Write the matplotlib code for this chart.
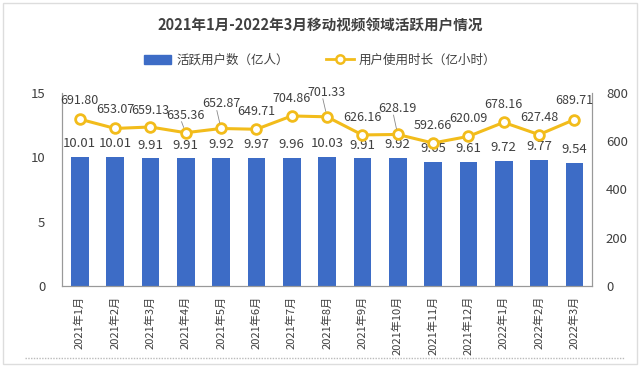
import matplotlib
matplotlib.use("Agg")
import matplotlib.pyplot as plt
from matplotlib.patches import Rectangle
from matplotlib.lines import Line2D

plt.rcParams['font.family'] = ['Noto Sans CJK SC', 'DejaVu Sans']

months = ["2021年1月", "2021年2月", "2021年3月", "2021年4月", "2021年5月", "2021年6月",
          "2021年7月", "2021年8月", "2021年9月", "2021年10月", "2021年11月", "2021年12月",
          "2022年1月", "2022年2月", "2022年3月"]
users = [10.01, 10.01, 9.91, 9.91, 9.92, 9.97, 9.96, 10.03, 9.91, 9.92, 9.65, 9.61, 9.72, 9.77, 9.54]
hours = [691.80, 653.07, 659.13, 635.36, 652.87, 649.71, 704.86, 701.33, 626.16, 628.19,
         592.66, 620.09, 678.16, 627.48, 689.71]
# label offsets (points) for line labels, some lifted with leader lines
hour_label_dy = [9, 9, 7, 8, 13, 8, 8, 13, 8, 14, 8, 8, 8, 8, 9]
leader = [False, False, False, True, True, False, False, True, False, True,
          False, False, False, False, False]

bar_color = "#3D6CC6"
line_color = "#F2BC1B"
text_color = "#404040"

fig = plt.figure(figsize=(6.4, 3.67), dpi=100)
fig.patch.set_facecolor("white")
ax = fig.add_axes([62/640, 1 - 286/367, 530/640, 193/367])
ax2 = ax.twinx()

x = list(range(len(months)))
ax.bar(x, users, width=0.5, color=bar_color, zorder=2)
ax.set_ylim(0, 15)
ax.set_yticks([0, 5, 10, 15])
ax.set_xlim(-0.5, len(months) - 0.5)
ax.set_xticks(x)
ax.set_xticklabels(months, rotation=90, fontsize=8, color=text_color)
ax.tick_params(axis='y', labelsize=9.5, colors=text_color, length=0, pad=12)
ax.tick_params(axis='x', length=0, pad=7)

ax2.plot(x, hours, color=line_color, lw=2.2, marker='o', ms=7, mfc='white',
         mec=line_color, mew=2, zorder=3)
ax2.set_ylim(0, 800)
ax2.set_yticks([0, 200, 400, 600, 800])
ax2.tick_params(axis='y', labelsize=9.5, colors=text_color, length=0, pad=10)

for a in (ax, ax2):
    a.spines['top'].set_visible(False)
    a.spines['left'].set_color('#999999')
    a.spines['right'].set_color('#999999')
    a.spines['bottom'].set_color('#999999')
    a.patch.set_alpha(0)

for xi, v in zip(x, users):
    ax.annotate(f"{v:.2f}", (xi, v), xytext=(0, 5), textcoords='offset points',
                ha='center', va='bottom', fontsize=9.5, color=text_color)
for xi, v, dy, ld in zip(x, hours, hour_label_dy, leader):
    ax2.annotate(f"{v:.2f}", (xi, v), xytext=(0, dy), textcoords='offset points',
                 ha='center', va='bottom', fontsize=9, color=text_color, zorder=4)
    if ld:
        ax2.annotate("", (xi, v), xytext=(-3, dy), textcoords='offset points',
                     arrowprops=dict(arrowstyle='-', color='#888888', lw=0.6,
                                     shrinkA=0, shrinkB=4))

fig.text(0.5, 1 - 25/367, "2021年1月-2022年3月移动视频领域活跃用户情况", ha='center', va='center',
         fontsize=10.5, fontweight='bold', color=text_color)

handles = [Rectangle((0, 0), 1, 1, color=bar_color),
           Line2D([0], [0], color=line_color, lw=2, marker='o', ms=6, mfc='white', mec=line_color, mew=1.8)]
fig.legend(handles, ["活跃用户数（亿人）", "用户使用时长（亿小时）"], loc='center',
           bbox_to_anchor=(0.5, 1 - 60/367), ncol=2, frameon=False, fontsize=9,
           labelcolor=text_color, handlelength=2.2, columnspacing=3, handletextpad=0.4)

fig.add_artist(Rectangle((3/640, 3/367), 634/640, 361/367, transform=fig.transFigure,
                         fill=False, edgecolor='#dddddd', lw=1))
fig.add_artist(Line2D([25/640, 625/640], [1 - 358/367, 1 - 358/367], transform=fig.transFigure,
                      color='#bbbbbb', lw=1, ls=(0, (1, 1))))

fig.savefig("out.png", dpi=100)
